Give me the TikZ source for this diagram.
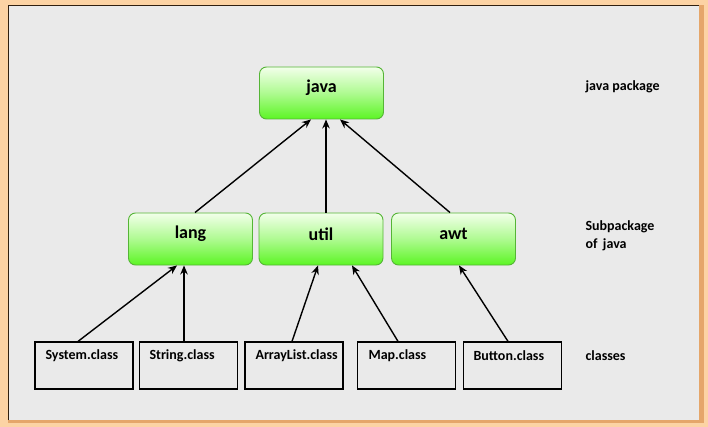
\documentclass[tikz,border=0pt]{standalone}
\usepackage{fontspec}
\setmainfont{Carlito}
\usetikzlibrary{arrows.meta,calc}
\definecolor{peach}{HTML}{FCD3A4}
\definecolor{peachdark}{HTML}{E5A66A}
\definecolor{panel}{HTML}{EAEAEA}
\definecolor{gtop}{HTML}{F2FFEA}
\definecolor{gbot}{HTML}{5CF524}
\definecolor{gedge}{HTML}{55B536}
\tikzset{
  pkg/.style={draw=gedge, line width=0.9pt, rounded corners=7pt, top color=gtop, bottom color=gbot, middle color=gbot!45!gtop,
    minimum width=124pt, minimum height=52pt, inner sep=0pt},
  pkglabel/.style={font=\bfseries\fontsize{18}{20}\selectfont},
  cls/.style={draw=black, line width=1.2pt, fill=panel, minimum width=98pt, minimum height=47pt, inner sep=0pt},
  clslabel/.style={font=\bfseries\fontsize{14}{16}\selectfont, anchor=west},
  side/.style={font=\bfseries\fontsize{14}{18}\selectfont, anchor=west, align=left},
  conn/.style={line width=1.4pt, -{Stealth[length=9pt,width=7.5pt]}}
}
\begin{document}
\begin{tikzpicture}[x=1pt,y=-1pt]
\useasboundingbox (0,0) rectangle (708,427);
% frame
\fill[peach] (0,0) rectangle (708,427);
\fill[peachdark] (8,5) rectangle (704,423);
\fill[panel] (8,5) rectangle (699,420);
\draw[black!75!brown, line width=1.2pt] (8.6,420) -- (8.6,5.6) -- (699,5.6);
% packages
\node[pkg] (java) at (321.5,93) {};
\node[pkglabel] (javat) at (321.5,88) {java};
\node[pkg] (lang) at (190.5,239) {};
\node[pkglabel] (langt) at (190.5,234) {lang};
\node[pkg] (util) at (321,239) {};
\node[pkglabel] (utilt) at (321,234) {util};
\node[pkg] (awt) at (453.5,239) {};
\node[pkglabel] (awtt) at (453.5,234) {awt};
% classes
\node[cls] (sys) at (84,365.5) {};
\node[clslabel] (syst) at (42,356) {System.class};
\node[cls] (str) at (188.5,365.5) {};
\node[clslabel] (strt) at (146,356) {String.class};
\node[cls] (arr) at (294,365.5) {};
\node[clslabel] (arrt) at (252,356) {ArrayList.class};
\node[cls] (map) at (406.5,365.5) {};
\node[clslabel] (mapt) at (365,356) {Map.class};
\node[cls] (btn) at (512.5,365.5) {};
\node[clslabel] (btnt) at (470,356) {Button.class};
% side labels
\node[side] (l1) at (582,87) {java package};
\node[side] (l2) at (582,236) {Subpackage\\of\, java};
\node[side] (l3) at (582,356) {classes};
% connectors
\draw[conn] ($(lang.north)+(4.5,0)$) -- ($(java.south)+(-10.5,0)$);
\draw[conn] ($(util.north)+(5,0)$) -- ($(java.south)+(4.5,0)$);
\draw[conn] ($(awt.north)+(-3.5,0)$) -- ($(java.south)+(18.5,0)$);
\draw[conn] ($(sys.north)+(-6,0)$) -- ($(lang.south)+(-13.5,0)$);
\draw[conn] ($(str.north)+(-4.5,0)$) -- ($(lang.south)+(-6.5,0)$);
\draw[conn] ($(arr.north)+(-2,0)$) -- ($(util.south)+(-3,0)$);
\draw[conn] ($(map.north)+(-8.5,0)$) -- ($(util.south)+(31,0)$);
\draw[conn] ($(btn.north)+(-4.5,0)$) -- ($(awt.south)+(5.5,0)$);
\end{tikzpicture}
\end{document}
